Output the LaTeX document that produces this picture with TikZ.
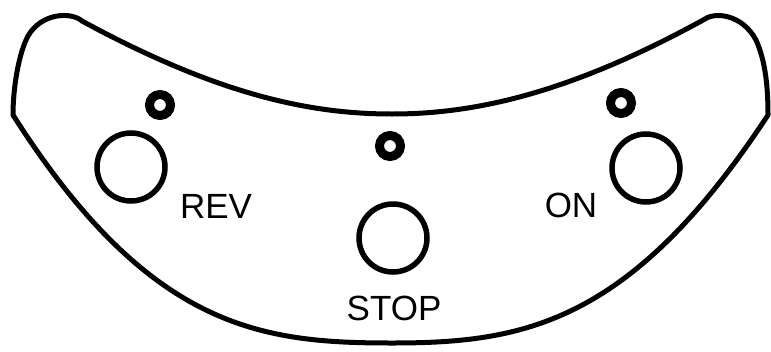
\documentclass[tikz,border=0pt]{standalone}
\usepackage{fontspec}
\setmainfont{Liberation Sans}

\begin{document}
\begin{tikzpicture}[x=1pt, y=-1pt,
    button/.style={circle, draw, line width=5.5pt, minimum size=68pt, inner sep=0pt},
    lamp/.style={circle, draw, line width=9pt, minimum size=21pt, inner sep=0pt},
    btntext/.style={anchor=base, inner sep=0pt, font=\fontsize{35}{40}\selectfont}]
    \useasboundingbox (0,0) rectangle (771,351);

    % Draw panel
    \draw[line width=5pt, line join=round]
        (13,115) .. controls (150,330) and (262,343) .. (392,343)
        .. controls (522,343) and (630,325) .. (768,115)
        .. controls (768,90) and (766,62) .. (756,40)
        .. controls (742,14) and (715,12) .. (705,19)
        .. controls (567,95) and (472,114) .. (392,114)
        .. controls (312,114) and (220,96) .. (82,21)
        .. controls (72,12) and (42,12) .. (28,36)
        .. controls (18,55) and (13,90) .. cycle;

    % Draw lamps
    \node[lamp] (revlamp) at (160,105) {};
    \node[lamp] (stoplamp) at (390,146) {};
    \node[lamp] (onlamp) at (621,103) {};

    % Draw buttons
    \node[button] (rev) at (131,167) {};
    \node[button] (stop) at (393,238) {};
    \node[button] (on) at (646,168) {};

    % Labels
    \node[btntext] (revtext) at (216,218) {REV};
    \node[btntext] (stoptext) at (394,320) {STOP};
    \node[btntext] (ontext) at (571,217) {ON};
\end{tikzpicture}
\end{document}
